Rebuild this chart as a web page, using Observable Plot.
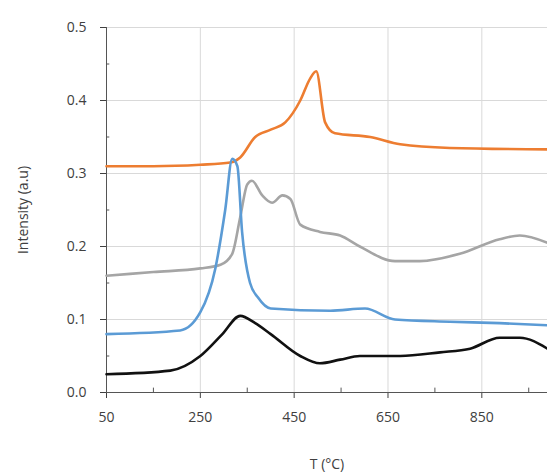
<!DOCTYPE html><html><head><meta charset="utf-8">
<script src="https://cdn.jsdelivr.net/npm/d3@7"></script>
<script src="https://cdn.jsdelivr.net/npm/@observablehq/plot@0.6"></script>
<style>body{margin:0;background:#fff}</style></head><body><div id="c"></div><script>
const orangeT=[50,150,250,314,335,367,400,431,463,484,497,516,537,612,676,782,990];
const orangeV=[0.31,0.31,0.312,0.315,0.322,0.35,0.36,0.37,0.40,0.43,0.44,0.37,0.355,0.35,0.34,0.335,0.333];
const grayT=[50,150,250,293,318,335,350,360,382,403,425,442,463,505,548,590,665,718,803,888,931,990];
const grayV=[0.16,0.165,0.17,0.175,0.19,0.24,0.285,0.29,0.27,0.26,0.27,0.265,0.23,0.22,0.215,0.20,0.18,0.18,0.19,0.21,0.215,0.205];
const blueT=[50,207,250,282,303,318,329,339,356,373,400,527,601,665,782,888,990];
const blueV=[0.08,0.085,0.11,0.17,0.25,0.32,0.31,0.22,0.15,0.13,0.115,0.112,0.115,0.10,0.097,0.095,0.092];
const blackT=[50,186,250,297,335,367,400,463,505,548,590,676,761,825,888,931,990];
const blackV=[0.025,0.03,0.05,0.08,0.105,0.095,0.08,0.05,0.04,0.045,0.05,0.05,0.055,0.06,0.075,0.075,0.06];
const xTicks=[50,250,450,650,850];
const xMinor=[150,350,550,750,950];
const yTicks=[0,0.1,0.2,0.3,0.4,0.5];
const yMinor=[0.05,0.15,0.25,0.35,0.45];
const series=[["gray",grayT,grayV,"#a5a5a5"],["orange",orangeT,orangeV,"#ed7d31"],["blue",blueT,blueV,"#5b9bd5"],["black",blackT,blackV,"#111"]];
const marks=[
 Plot.gridX(xTicks.slice(1),{stroke:"#d9d9d9",strokeOpacity:1}),
 Plot.gridY(yTicks.slice(1),{stroke:"#d9d9d9",strokeOpacity:1}),
 Plot.ruleY([0],{stroke:"#555"}),Plot.ruleX([50],{stroke:"#555"}),
 Plot.ruleX(xMinor,{y1:0,y2:0.006,stroke:"#555"}),
 Plot.ruleY(yMinor,{x1:50,x2:57,stroke:"#555"}),
];
for(const [n,t,v,c] of series){
 marks.push(Plot.line(t.map((x,i)=>({x,y:v[i]})),{x:"x",y:"y",stroke:c,strokeWidth:2.6,curve:"monotone-x"}));
}
const chart=Plot.plot({width:547,height:476,marginLeft:106,marginRight:0,marginTop:27,marginBottom:84,
 style:{fontFamily:"Open Sans",fontSize:"14px",color:"#404040"},
 x:{domain:[50,990],ticks:xTicks,tickSize:6,label:"T (°C)",labelArrow:"none",labelAnchor:"center",labelOffset:76,tickPadding:14},
 y:{domain:[0,0.5],ticks:yTicks,tickFormat:d3.format(".1f"),tickSize:6,label:"Intensity (a.u)",labelArrow:"none",labelAnchor:"center",labelOffset:88,tickPadding:14},
 marks});
document.getElementById("c").append(chart);
</script></body></html>
